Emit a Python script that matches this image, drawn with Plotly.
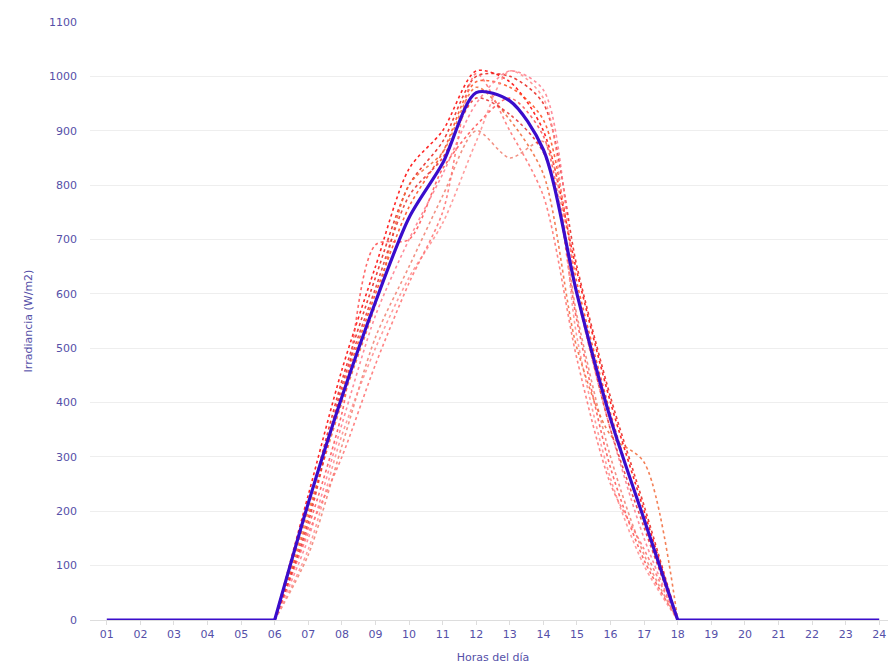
import plotly.graph_objects as go

hours = [f"{h:02d}" for h in range(1, 25)]

def day(vals):
    # vals: hours 07..17, zeros elsewhere
    return [0] * 6 + vals + [0] * 7

mean_vals = day([215, 410, 585, 740, 840, 970, 955, 865, 600, 370, 185])

dia_01 = day([230, 460, 650, 830, 900, 1010, 990, 900, 640, 400, 200])
dia_02 = day([210, 440, 630, 800, 880, 1000, 1000, 950, 650, 410, 210])
dia_03 = day([190, 420, 600, 760, 860, 990, 980, 920, 620, 380, 180])
dia_04 = day([150, 360, 560, 700, 820, 950, 1010, 975, 600, 350, 150])
dia_05 = day([120, 320, 520, 650, 780, 900, 850, 880, 560, 300, 120])
dia_06 = day([170, 380, 690, 700, 830, 910, 960, 890, 550, 280, 110])
dia_07 = day([130, 340, 500, 630, 730, 880, 1010, 960, 520, 260, 100])
dia_08 = day([200, 400, 580, 800, 860, 980, 920, 820, 500, 340, 290])
dia_09 = day([160, 300, 470, 620, 750, 1005, 900, 780, 480, 250, 130])
dia_10 = day([180, 430, 610, 780, 850, 960, 930, 860, 600, 350, 170])

days = [dia_01, dia_02, dia_03, dia_04, dia_05, dia_06, dia_07, dia_08, dia_09, dia_10]
day_colors = ["#ff0000", "#e8201a", "#ff4a1c", "#ff7a8a", "#f08070",
              "#ff5050", "#ff8c8c", "#f26a3a", "#ff6f6f", "#e63030"]

SUN_START, SUN_END = 5, 17  # indices of hours 06 and 18


def split(vals):
    """Daylight part (smoothed) and night part (flat), sharing hours 06 and 18."""
    daylight = [v if SUN_START <= i <= SUN_END else None for i, v in enumerate(vals)]
    night = [v if (i <= SUN_START or i >= SUN_END) else None for i, v in enumerate(vals)]
    return daylight, night


fig = go.Figure()
for vals, col in zip(days, day_colors):
    d, n = split(vals)
    fig.add_trace(go.Scatter(
        x=hours, y=d, mode="lines", connectgaps=False,
        line=dict(color=col, width=1.6, dash="dot", shape="spline", smoothing=0.8),
        opacity=0.85, showlegend=False, hoverinfo="skip"))

d, n = split(mean_vals)
fig.add_trace(go.Scatter(
    x=hours, y=n, mode="lines", connectgaps=False,
    line=dict(color="#3a0dcc", width=3.2),
    showlegend=False, hoverinfo="skip"))
fig.add_trace(go.Scatter(
    x=hours, y=d, mode="lines", connectgaps=False,
    line=dict(color="#3a0dcc", width=3.2, shape="spline", smoothing=0.8),
    showlegend=False))

txt = "#5550a8"
fig.update_layout(
    width=896, height=667,
    margin=dict(l=82, r=8, t=8, b=55),
    paper_bgcolor="white", plot_bgcolor="white",
    font=dict(family="DejaVu Sans", size=11, color=txt),
    xaxis=dict(
        type="category", range=[-0.5, 23.5], showgrid=False,
        showline=True, linecolor="#dddddd", linewidth=1,
        ticks="outside", ticklen=4, tickcolor="#dddddd",
        tickfont=dict(size=11, color=txt),
        title=dict(text="Horas del día", font=dict(size=11, color=txt), standoff=13),
    ),
    yaxis=dict(
        range=[0, 1100], dtick=100, showgrid=True, gridcolor="#eeeeee",
        zeroline=False, tickfont=dict(size=11, color=txt),
        ticklabelstandoff=12,
        title=dict(text="Irradiancia (W/m2)", font=dict(size=11, color=txt), standoff=14),
    ),
)

fig.write_html("out.html")
